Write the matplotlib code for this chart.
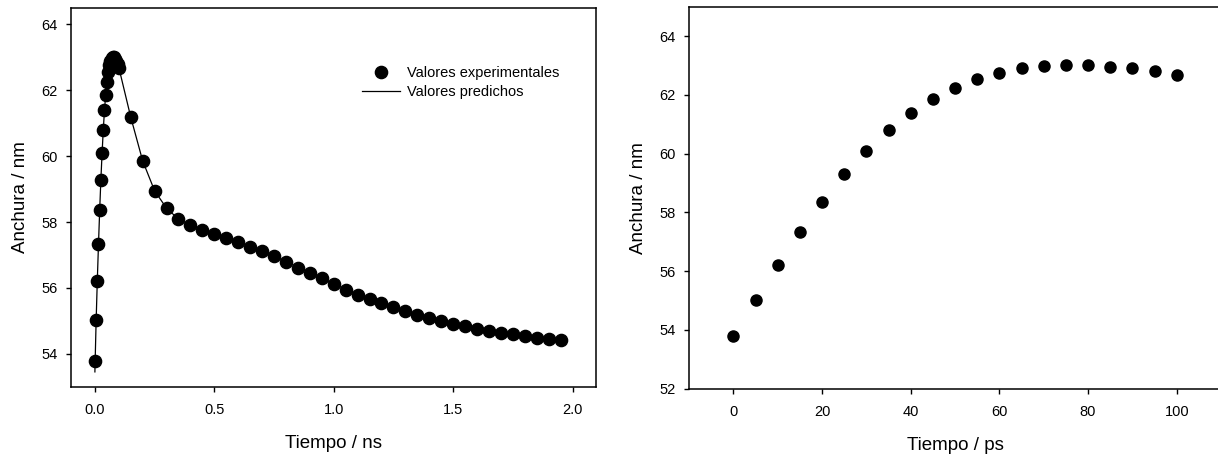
import numpy as np
import matplotlib
matplotlib.use("Agg")
from matplotlib import pyplot as plt

plt.rcParams['font.family'] = ['Liberation Sans', 'DejaVu Sans']

# primeros 100 ps (paso de 5 ps)
t_ps = [0, 5, 10, 15, 20, 25, 30, 35, 40, 45, 50, 55, 60, 65, 70, 75, 80, 85, 90, 95, 100]
w_ps = [53.79, 55.03, 56.22, 57.33, 58.36, 59.29, 60.09, 60.80, 61.39, 61.86, 62.25,
        62.55, 62.76, 62.90, 62.98, 63.01, 63.00, 62.96, 62.90, 62.81, 62.69]

# resto de la serie, de 0.15 a 1.95 ns
t_ns_tail = [0.15, 0.20, 0.25, 0.30, 0.35, 0.40, 0.45, 0.50, 0.55, 0.60, 0.65, 0.70,
             0.75, 0.80, 0.85, 0.90, 0.95, 1.00, 1.05, 1.10, 1.15, 1.20, 1.25, 1.30,
             1.35, 1.40, 1.45, 1.50, 1.55, 1.60, 1.65, 1.70, 1.75, 1.80, 1.85, 1.90, 1.95]
w_ns_tail = [61.19, 59.86, 58.95, 58.42, 58.09, 57.91, 57.76, 57.65, 57.53, 57.40, 57.25,
             57.12, 56.96, 56.80, 56.62, 56.46, 56.29, 56.13, 55.95, 55.80, 55.66, 55.54,
             55.42, 55.31, 55.19, 55.09, 55.00, 54.91, 54.83, 54.76, 54.70, 54.64, 54.59,
             54.54, 54.49, 54.46, 54.42]

t_exp = [t / 1000 for t in t_ps] + t_ns_tail
w_exp = w_ps + w_ns_tail

# valores del modelo
t_pred = t_exp
w_pred = [53.45, 54.95, 56.20, 57.32, 58.35, 59.28, 60.08, 60.79, 61.38, 61.86, 62.25,
          62.55, 62.76, 62.90, 62.98, 63.00, 62.99, 62.95, 62.88, 62.80, 62.70] + \
         [61.19, 59.86, 58.95, 58.42, 58.09, 57.91, 57.76, 57.65, 57.53, 57.40, 57.25,
          57.12, 56.96, 56.80, 56.62, 56.46, 56.29, 56.13, 55.95, 55.80, 55.66, 55.54,
          55.42, 55.31, 55.19, 55.09, 55.00, 54.91, 54.83, 54.76, 54.70, 54.64, 54.59,
          54.54, 54.49, 54.46, 54.42]

fig = plt.figure(figsize=(12.18, 4.59), dpi=100)
ax1 = fig.add_axes([0.0583, 0.1575, 0.4314, 0.825])
ax2 = fig.add_axes([0.5657, 0.1532, 0.4368, 0.8322])


def style(ax):
    for s in ax.spines.values():
        s.set_linewidth(1.1)
    ax.tick_params(direction='out', length=3.5, width=1.0, labelsize=10.5,
                   top=False, right=False)
    ax.tick_params(axis='x', pad=8)
    ax.tick_params(axis='y', pad=6)


# panel izquierdo: 0-2 ns con ajuste
ax1.plot(t_pred, w_pred, color='black', lw=0.9, zorder=2, label='Valores predichos')
ax1.plot(t_exp, w_exp, 'o', color='black', ms=8.8, zorder=3, label='Valores experimentales')
ax1.set_xlim(-0.1, 2.1)
ax1.set_ylim(53, 64.5)
ax1.set_xticks([0.0, 0.5, 1.0, 1.5, 2.0])
ax1.set_yticks([54, 56, 58, 60, 62, 64])
ax1.set_xlabel('Tiempo / ns', fontsize=13.5, labelpad=13)
ax1.set_ylabel('Anchura / nm', fontsize=13.5, labelpad=9)
style(ax1)

h, l = ax1.get_legend_handles_labels()
ax1.legend(h[::-1], l[::-1], loc='upper left', bbox_to_anchor=(0.54, 0.865),
           frameon=False, fontsize=10.5, handlelength=2.6, handletextpad=0.5,
           labelspacing=0.3, borderpad=0)

# panel derecho: primeros 100 ps
ax2.plot(t_ps, w_ps, 'o', color='black', ms=8)
ax2.set_xlim(-10, 110)
ax2.set_ylim(52, 65)
ax2.set_xticks([0, 20, 40, 60, 80, 100])
ax2.set_yticks([52, 54, 56, 58, 60, 62, 64])
ax2.set_xlabel('Tiempo / ps', fontsize=13.5, labelpad=13)
ax2.set_ylabel('Anchura / nm', fontsize=13.5, labelpad=9)
style(ax2)

plt.savefig('out.png', dpi=100)
